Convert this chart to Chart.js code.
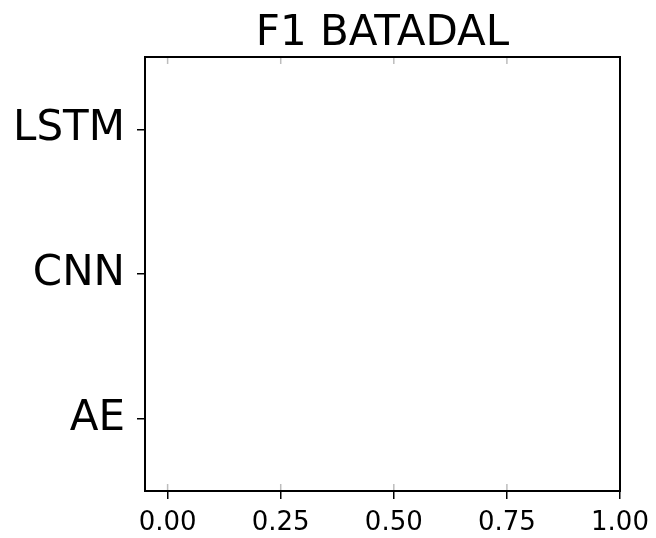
<!DOCTYPE html>
<html>
<head>
<meta charset="utf-8">
<script src="https://cdn.jsdelivr.net/npm/chart.js@4/dist/chart.umd.min.js"></script>
<style>
html,body{margin:0;padding:0;background:#fff;}
#wrap{width:656px;height:538px;}
</style>
</head>
<body>
<div id="wrap"><canvas id="c" width="656" height="538"></canvas></div>
<script>
const categories = ['LSTM', 'CNN', 'AE'];
const f1Values = [0, 0, 0];
const xTickValues = [0, 0.25, 0.5, 0.75, 1.0];
const chartTitle = 'F1 BATADAL';

const FONT = "'DejaVu Sans', sans-serif";

const framePlugin = {
  id: 'frame',
  afterDraw(chart) {
    const {ctx, chartArea: a, scales} = chart;
    ctx.save();
    ctx.strokeStyle = '#bdbdbd';
    ctx.lineWidth = 1.5;
    xTickValues.forEach(v => {
      const x = scales.x.getPixelForValue(v);
      ctx.beginPath();
      ctx.moveTo(x, a.top); ctx.lineTo(x, a.top + 7);
      ctx.moveTo(x, a.bottom); ctx.lineTo(x, a.bottom - 7);
      ctx.stroke();
    });
    ctx.strokeStyle = '#000';
    ctx.lineWidth = 2;
    ctx.strokeRect(a.left, a.top, a.right - a.left, a.bottom - a.top);
    ctx.restore();
  }
};

new Chart(document.getElementById('c'), {
  type: 'bar',
  data: {
    labels: categories,
    datasets: [{
      label: 'F1',
      data: f1Values,
      backgroundColor: '#1f77b4',
      borderWidth: 0
    }]
  },
  options: {
    indexAxis: 'y',
    responsive: false,
    animation: false,
    devicePixelRatio: 1,
    layout: {padding: {left: 0, right: 36, top: 0, bottom: 0}},
    plugins: {
      legend: {display: false},
      tooltip: {enabled: false},
      title: {
        display: true,
        fullSize: false,
        text: chartTitle,
        color: '#000',
        font: {family: FONT, size: 42, weight: 'normal', lineHeight: 1.0},
        padding: {top: 13, bottom: 2}
      }
    },
    scales: {
      x: {
        type: 'linear',
        min: -0.05,
        max: 1.0,
        afterBuildTicks(scale) {
          scale.ticks = xTickValues.map(v => ({value: v}));
        },
        afterFit(scale) {
          scale.height = 47;
          scale.paddingLeft = 0;
          scale.paddingRight = 0;
        },
        ticks: {
          color: '#000',
          font: {family: FONT, size: 26},
          padding: 9,
          maxRotation: 0,
          callback: v => Number(v).toFixed(2)
        },
        grid: {
          drawOnChartArea: false,
          drawTicks: true,
          tickLength: 8,
          color: '#000',
          lineWidth: 1.5
        },
        border: {display: true, color: '#000', width: 2}
      },
      y: {
        type: 'category',
        offset: true,
        afterFit(scale) { scale.width = 145; },
        ticks: {
          color: '#000',
          font: {family: FONT, size: 42},
          padding: 12
        },
        grid: {
          offset: false,
          drawOnChartArea: false,
          drawTicks: true,
          tickLength: 8,
          color: '#000',
          lineWidth: 1.5
        },
        border: {display: true, color: '#000', width: 2}
      }
    }
  },
  plugins: [framePlugin]
});
</script>
</body>
</html>
